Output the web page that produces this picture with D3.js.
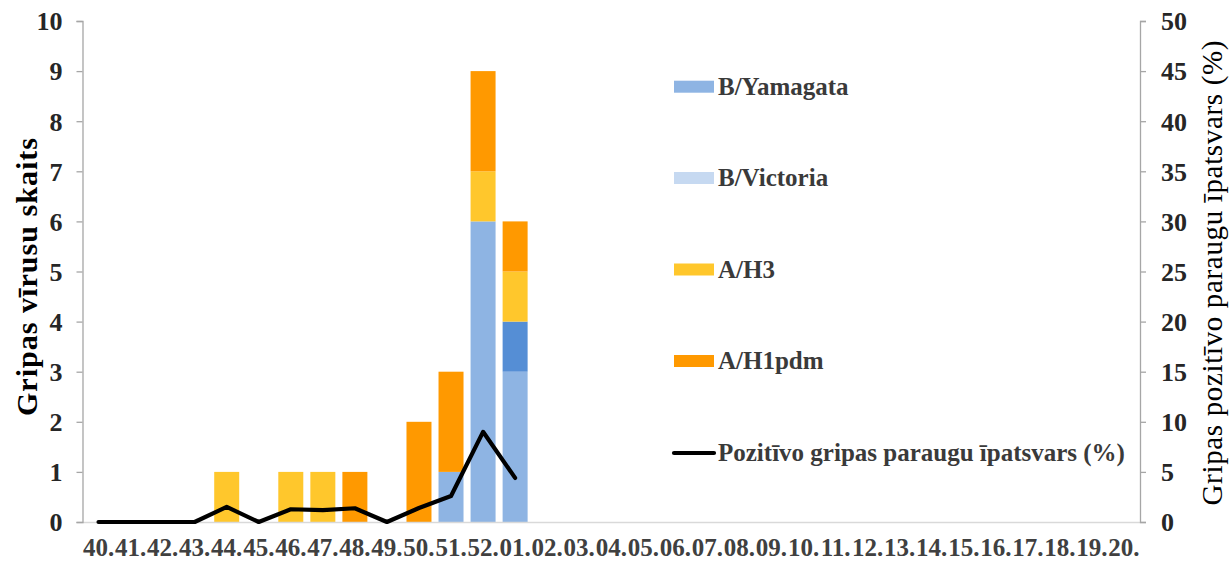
<!DOCTYPE html>
<html>
<head>
<meta charset="utf-8">
<script src="https://cdn.jsdelivr.net/npm/d3@7"></script>
<style>
  html, body { margin: 0; padding: 0; background: #fff; }
  svg { display: block; }
  svg text { font-family: "Liberation Serif", "Times New Roman", Tinos, "DejaVu Serif", serif !important; }
</style>
</head>
<body>
<svg id="chart" width="1230" height="562"></svg>
<script>
// ---- data ----
const weeks = ["40.","41.","42.","43.","44.","45.","46.","47.","48.","49.","50.","51.","52.",
               "01.","02.","03.","04.","05.","06.","07.","08.","09.","10.","11.","12.","13.",
               "14.","15.","16.","17.","18.","19.","20."];
// virus counts per week (weeks with data: 40. .. 01.)
const bYamagata = [0,0,0,0,0,0,0,0,0,0,0,1,6,3];
const bOther    = [0,0,0,0,0,0,0,0,0,0,0,0,0,1];   // darker blue segment (not in legend)
const bVictoria = [0,0,0,0,0,0,0,0,0,0,0,0,0,0];
const aH3       = [0,0,0,0,1,0,1,1,0,0,0,0,1,1];
const aH1pdm    = [0,0,0,0,0,0,0,0,1,0,2,2,2,1];
// share of positive samples, %
const positivePct = [0,0,0,0,1.5,0,1.27,1.18,1.37,0,1.4,2.6,9.0,4.4];
const leftTicks  = [0,1,2,3,4,5,6,7,8,9,10];
const rightTicks = [0,5,10,15,20,25,30,35,40,45,50];

const seriesNames  = ["B/Yamagata", "B", "B/Victoria", "A/H3", "A/H1pdm"];
const seriesValues = [bYamagata, bOther, bVictoria, aH3, aH1pdm];
const seriesColors = ["#8EB4E3", "#558ED5", "#C6D9F1", "#FFC72C", "#FF9900"];
const legendSeries = ["B/Yamagata", "B/Victoria", "A/H3", "A/H1pdm"];
const lineLabel = "Pozitīvo gripas paraugu īpatsvars (%)";

// ---- layout ----
const svg = d3.select("#chart");
const x0 = 82.5, x1 = 1140, yTop = 21, yBot = 522;
const serif = '"Liberation Serif", "Times New Roman", Tinos, "DejaVu Serif", serif';

const x = d3.scaleBand().domain(weeks).range([x0, x1]).paddingInner(0.22).paddingOuter(0.11);
const yL = d3.scaleLinear().domain([0, 10]).range([yBot, yTop]);
const yR = d3.scaleLinear().domain([0, 50]).range([yBot, yTop]);

const rows = weeks.map((w, i) => {
  const r = { week: w };
  seriesNames.forEach((n, k) => { r[n] = seriesValues[k][i] || 0; });
  return r;
});
const stack = d3.stack().keys(seriesNames)(rows);
const color = d3.scaleOrdinal().domain(seriesNames).range(seriesColors);

// bars
svg.append("g").selectAll("g").data(stack).join("g")
  .attr("fill", d => color(d.key))
  .selectAll("rect").data(d => d.filter(s => s[1] - s[0] > 0)).join("rect")
  .attr("x", d => x(d.data.week))
  .attr("width", x.bandwidth())
  .attr("y", d => yL(d[1]))
  .attr("height", d => yL(d[0]) - yL(d[1]));

// bottom axis line
svg.append("line").attr("x1", x0).attr("x2", x1).attr("y1", yBot + 0.5).attr("y2", yBot + 0.5)
  .attr("stroke", "#D9D9D9").attr("stroke-width", 1.5);

function styleAxis(g) {
  g.attr("font-family", serif);
  g.select(".domain").attr("stroke", "#A6A6A6").attr("stroke-width", 1.3);
  g.selectAll(".tick line").attr("stroke", "#A6A6A6").attr("stroke-width", 1.3);
  g.selectAll(".tick text").attr("font-family", serif).attr("font-weight", "bold")
    .attr("font-size", 26).attr("fill", "#262626").attr("dy", "0.34em");
}
const gL = svg.append("g").attr("transform", `translate(${x0},0)`)
  .call(d3.axisLeft(yL).tickValues(leftTicks).tickSize(6).tickPadding(14).tickSizeOuter(6));
styleAxis(gL);
const gR = svg.append("g").attr("transform", `translate(${x1},0)`)
  .call(d3.axisRight(yR).tickValues(rightTicks).tickSize(6).tickPadding(15).tickSizeOuter(6));
styleAxis(gR);

// x labels
svg.append("g").selectAll("text").data(weeks).join("text")
  .attr("x", d => x(d) + x.bandwidth() / 2)
  .attr("y", 556)
  .attr("text-anchor", "middle").attr("font-family", serif)
  .attr("font-weight", "bold").attr("font-size", 25).attr("fill", "#404040")
  .text(d => d);

// line
const lineData = positivePct.map((v, i) => ({ week: weeks[i], v }));
svg.append("path").datum(lineData)
  .attr("fill", "none").attr("stroke", "#000").attr("stroke-width", 4.2)
  .attr("stroke-linejoin", "round").attr("stroke-linecap", "round")
  .attr("d", d3.line().x(d => x(d.week) + x.bandwidth() / 2).y(d => yR(d.v)));

// axis titles
svg.append("text")
  .attr("transform", `translate(37,277) rotate(-90)`)
  .attr("text-anchor", "middle").attr("font-family", serif).attr("font-weight", "bold")
  .attr("font-size", 30).attr("fill", "#000")
  .attr("textLength", 278).attr("lengthAdjust", "spacing")
  .text("Gripas vīrusu skaits");
svg.append("text")
  .attr("transform", `translate(1222,273) rotate(-90)`)
  .attr("text-anchor", "middle").attr("font-family", serif).attr("font-weight", "normal")
  .attr("font-size", 29).attr("fill", "#000")
  .attr("textLength", 465).attr("lengthAdjust", "spacing")
  .text("Gripas pozitīvo paraugu īpatsvars (%)");

// legend
const legY = [86.7, 178, 269.5, 361, 453];
const lg = svg.append("g");
legendSeries.forEach((n, i) => {
  lg.append("rect").attr("x", 674).attr("y", legY[i] - 6).attr("width", 40).attr("height", 12)
    .attr("fill", color(n));
  lg.append("text").attr("x", 718).attr("y", legY[i] + 8).attr("font-family", serif)
    .attr("font-weight", "bold").attr("font-size", 25).attr("fill", "#3A3A3A").text(n);
});
lg.append("line").attr("x1", 674).attr("x2", 714).attr("y1", legY[4]).attr("y2", legY[4])
  .attr("stroke", "#000").attr("stroke-width", 4.2).attr("stroke-linecap", "round");
lg.append("text").attr("x", 718).attr("y", legY[4] + 8).attr("font-family", serif)
  .attr("font-weight", "bold").attr("font-size", 25).attr("fill", "#3A3A3A").text(lineLabel);
</script>
</body>
</html>
